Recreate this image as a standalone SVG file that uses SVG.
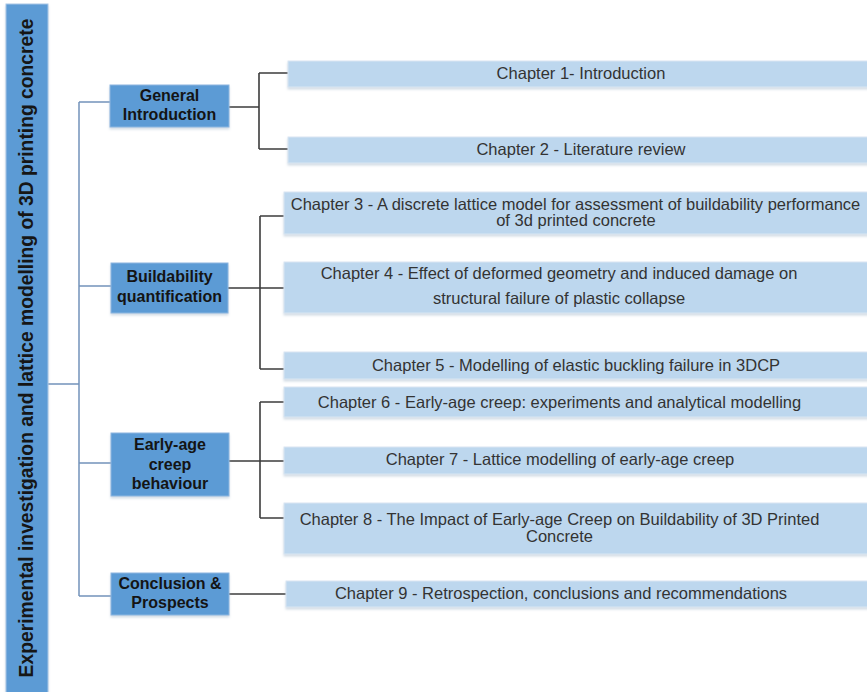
<svg xmlns="http://www.w3.org/2000/svg" width="867" height="692" viewBox="0 0 867 692">
<defs>
<filter id="sh" x="-5%" y="-20%" width="110%" height="150%">
<feDropShadow dx="0" dy="2" stdDeviation="1.2" flood-color="#9fb3c8" flood-opacity="0.45"/>
</filter>
<style>
.main{fill:#5B9BD5;stroke:#a9c6e6;stroke-width:1;filter:url(#sh)}
.sec{fill:#5B9BD5;stroke:#8db6e0;stroke-width:1;filter:url(#sh)}
.ch{fill:#BDD7EE;stroke:#d9e6f2;stroke-width:1;filter:url(#sh)}
.t1{font-family:"Liberation Sans",Arial,sans-serif;font-weight:bold;font-size:16px;fill:#141414;text-anchor:middle}
.t0{font-family:"Liberation Sans",Arial,sans-serif;font-weight:bold;font-size:19.3px;fill:#161616;text-anchor:middle}
.t2{font-family:"Liberation Sans",Arial,sans-serif;font-size:16.5px;fill:#333333;text-anchor:middle}
.blue{stroke:#7393bb;stroke-width:1.5;fill:none}
.dark{stroke:#3c3c3c;stroke-width:1.6;fill:none}
</style>
</defs>
<rect width="867" height="692" fill="#ffffff"/>

<g id="connectors">
<path class="blue" d="M48,384 H79 M79,102 V596 M79,102 H110 M79,286 H111 M79,463 H111 M79,596 H111"/>
<path class="dark" d="M229,107 H259 M259,73 V149 M259,73 H288 M259,149 H288"/>
<path class="dark" d="M228,288 H284 M260,216 V369 M260,216 H284 M260,369 H284"/>
<path class="dark" d="M229,461 H284 M260,402 V518 M260,402 H284 M260,518 H284"/>
<path class="dark" d="M229,594 H286"/>
</g>

<g id="root">
<rect class="main" x="6" y="4" width="42" height="700"/>
<text class="t0" transform="translate(32.5,348) rotate(-90)">Experimental investigation and lattice modelling of 3D printing concrete</text>
</g>

<g id="general-introduction">
<rect class="sec" x="110" y="85" width="119" height="42"/>
<text class="t1" x="169.5" y="100.7">General</text>
<text class="t1" x="169.5" y="120">Introduction</text>
</g>
<g id="buildability-quantification">
<rect class="sec" x="111" y="263" width="117" height="50"/>
<text class="t1" x="169.5" y="282.3">Buildability</text>
<text class="t1" x="169.5" y="302">quantification</text>
</g>
<g id="early-age-creep">
<rect class="sec" x="111" y="433" width="118" height="63"/>
<text class="t1" x="170" y="450">Early-age</text>
<text class="t1" x="170" y="470">creep</text>
<text class="t1" x="170" y="489">behaviour</text>
</g>
<g id="conclusion-prospects">
<rect class="sec" x="111" y="573" width="118" height="42"/>
<text class="t1" x="170" y="589.3">Conclusion &amp;</text>
<text class="t1" x="170" y="608.3">Prospects</text>
</g>

<g id="chapter-1">
<rect class="ch" x="288" y="61" width="585" height="26"/>
<text class="t2" x="581" y="79">Chapter 1- Introduction</text>
</g>
<g id="chapter-2">
<rect class="ch" x="288" y="137" width="585" height="26"/>
<text class="t2" x="581" y="155">Chapter 2 - Literature review</text>
</g>
<g id="chapter-3">
<rect class="ch" x="284" y="192" width="589" height="42"/>
<text class="t2" x="575.5" y="209.5">Chapter 3 - A discrete lattice model for assessment of buildability performance</text>
<text class="t2" x="576" y="226">of 3d printed concrete</text>
</g>
<g id="chapter-4">
<rect class="ch" x="284" y="262" width="589" height="51"/>
<text class="t2" x="559" y="278.7">Chapter 4 - Effect of deformed geometry and induced damage on</text>
<text class="t2" x="559" y="304">structural failure of plastic collapse</text>
</g>
<g id="chapter-5">
<rect class="ch" x="284" y="352" width="589" height="27"/>
<text class="t2" x="576" y="370.7">Chapter 5 - Modelling of elastic buckling failure in 3DCP</text>
</g>
<g id="chapter-6">
<rect class="ch" x="284" y="387" width="589" height="30"/>
<text class="t2" x="559.5" y="407.5">Chapter 6 - Early-age creep: experiments and analytical modelling</text>
</g>
<g id="chapter-7">
<rect class="ch" x="284" y="447" width="589" height="27"/>
<text class="t2" x="560" y="465">Chapter 7 - Lattice modelling of early-age creep</text>
</g>
<g id="chapter-8">
<rect class="ch" x="284" y="503" width="589" height="51"/>
<text class="t2" x="559.5" y="525">Chapter 8 - The Impact of Early-age Creep on Buildability of 3D Printed</text>
<text class="t2" x="559.5" y="542.3">Concrete</text>
</g>
<g id="chapter-9">
<rect class="ch" x="286" y="581" width="587" height="26"/>
<text class="t2" x="561" y="599.3">Chapter 9 - Retrospection, conclusions and recommendations</text>
</g>
</svg>
